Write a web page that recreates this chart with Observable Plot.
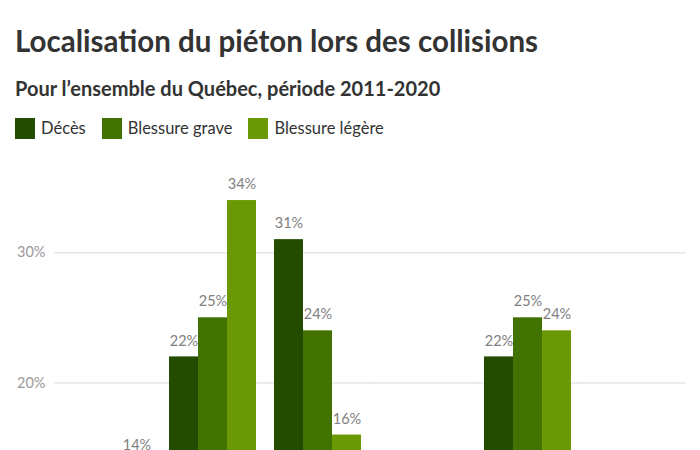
<!DOCTYPE html>
<html>
<head>
<meta charset="utf-8">
<script src="https://cdn.jsdelivr.net/npm/d3@7"></script>
<script src="https://cdn.jsdelivr.net/npm/@observablehq/plot@0.6"></script>
<style>
  body { margin: 0; background: #fff; font-family: Lato, "Open Sans", sans-serif; overflow: hidden; }
  #wrap { width: 700px; }
  h1 { margin: 0; padding: 25px 0 0 15px; font-size: 29.5px; line-height: 32px; font-weight: 700; color: #333; }
  h2 { margin: 0; padding: 20px 0 0 15px; font-size: 20px; line-height: 22px; font-weight: 700; color: #333; }
  .legend { display: flex; padding: 18px 0 0 15px; gap: 16px; font-size: 16.5px; color: #333; line-height: 22px; }
  .legend span.item { display: flex; align-items: center; gap: 6px; }
  .legend span.sw { width: 20px; height: 21px; display: inline-block; }
  #chart { margin-top: 2px; }
</style>
</head>
<body>
<div id="wrap">
  <h1>Localisation du piéton lors des collisions</h1>
  <h2>Pour l’ensemble du Québec, période 2011-2020</h2>
  <div class="legend" id="legend"></div>
  <div id="chart"></div>
</div>
<script>
const categories = [
  "Passage pour piétons",
  "Intersection avec feux",
  "Hors intersection",
  "Intersection sans feux",
  "Intersection avec arrêt",
  "Autre endroit"
];
const series = ["Décès", "Blessure grave", "Blessure légère"];
const colors = ["#244c00", "#427200", "#6b9906"];
const deces = [10, 22, 31, 11, 22, 4];
const blessureGrave = [12, 25, 24, 9, 25, 5];
const blessureLegere = [14, 34, 16, 7, 24, 5];
const yTicks = [0, 10, 20, 30];

const values = [deces, blessureGrave, blessureLegere];
const data = [];
categories.forEach((c, i) => {
  series.forEach((s, j) => data.push({categorie: c, serie: s, valeur: values[j][i]}));
});

const legend = document.getElementById("legend");
series.forEach((s, j) => {
  const it = document.createElement("span");
  it.className = "item";
  it.innerHTML = `<span class="sw" style="background:${colors[j]}"></span>${s}`;
  legend.appendChild(it);
});

const chart = Plot.plot({
  width: 700,
  height: 570,
  marginLeft: 55,
  marginRight: 15,
  marginTop: 33,
  marginBottom: 68,
  style: {fontFamily: "Lato, 'Open Sans', sans-serif", background: "#fff"},
  fx: {domain: categories, paddingInner: 0.152, paddingOuter: 0.076, label: null, axis: null},
  x: {domain: series, padding: 0, axis: null},
  y: {domain: [0, 36], axis: null},
  color: {domain: series, range: colors},
  marks: [
    Plot.ruleY(yTicks, {stroke: "#e6e6e6", strokeWidth: 1.5, insetLeft: -8.5, insetRight: -8.5}),
    Plot.axisY(yTicks, {tickSize: 0, tickPadding: 18, tickFormat: d => d + "%", fill: "#999", fontSize: 14.5, label: null}),
    Plot.barY(data, {fx: "categorie", x: "serie", y: "valeur", fill: "serie"}),
    Plot.text(data, {fx: "categorie", x: "serie", y: "valeur", text: d => d.valeur + "%", dy: -16, fill: "#808080", fontSize: 14.5}),
    Plot.axisFx({anchor: "bottom", tickSize: 0, tickPadding: 12, lineWidth: 8, fontSize: 11, fill: "#555", label: null})
  ]
});
document.getElementById("chart").appendChild(chart);
</script>
</body>
</html>
